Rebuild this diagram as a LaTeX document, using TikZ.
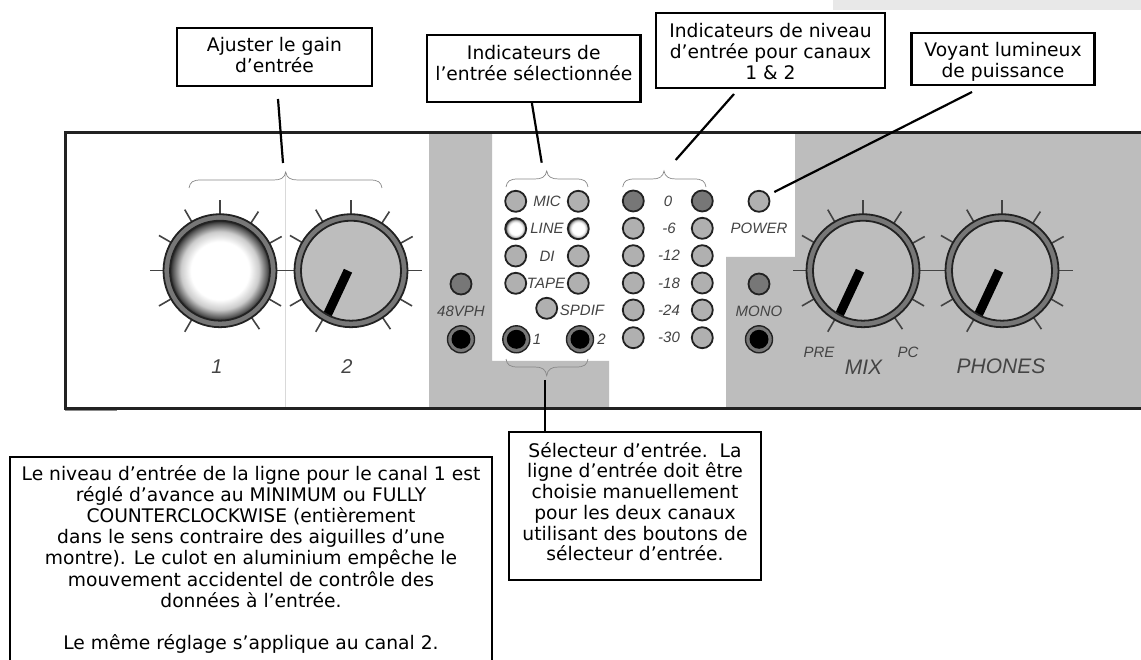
\documentclass[tikz,border=0pt]{standalone}
\usepackage{fontspec}
\setmainfont{DejaVu Sans}
\newfontfamily\arialit{Liberation Sans}[ItalicFont=* Italic]
\definecolor{panelgray}{HTML}{BDBDBD}
\definecolor{ringgray}{HTML}{777777}
\definecolor{inkdark}{HTML}{222222}
\definecolor{printtext}{HTML}{444444}
\definecolor{bracegray}{HTML}{888888}
\definecolor{shadea}{HTML}{CCCCCC}
\definecolor{shadeb}{HTML}{5A5A5A}
\definecolor{shadec}{HTML}{262626}
\pgfdeclareradialshading{knobshade}{\pgfpoint{0bp}{0bp}}{color(0bp)=(white); color(14.5bp)=(white); color(19.5bp)=(shadea); color(23.5bp)=(shadeb); color(25bp)=(shadec); color(50bp)=(shadec)}
\tikzset{
  callout/.style={draw=black,line width=2.4pt,fill=white,inner sep=0pt,outer sep=0pt,align=center,font=\fontsize{18.7}{20.7}\selectfont},
  leader/.style={draw=black,line width=2.2pt},
  led/.style={circle,draw=inkdark,line width=1.8pt,fill=panelgray!93!black,minimum size=21pt,inner sep=0pt,outer sep=0pt},
  ledon/.style={led,fill=ringgray},
  ledlit/.style={led,shade,shading=knobshade},
  jackring/.style={circle,draw=inkdark,line width=1.4pt,fill=ringgray,minimum size=27pt,inner sep=0pt,outer sep=0pt},
  jackcore/.style={circle,fill=black,minimum size=19pt,inner sep=0pt,outer sep=0pt},
  knobring/.style={circle,draw=inkdark,line width=1.8pt,fill=ringgray,minimum size=113pt,inner sep=0pt,outer sep=0pt},
  knobface/.style={circle,draw=inkdark,line width=1.8pt,fill=panelgray,minimum size=100pt,inner sep=0pt,outer sep=0pt},
  tick/.style={draw=inkdark!85!white,line width=1.6pt},
  printed/.style={text=printtext,inner sep=0pt,font=\arialit\itshape\fontsize{15}{15}\selectfont},
  printedbig/.style={text=printtext,inner sep=0pt,font=\arialit\itshape\fontsize{21}{21}\selectfont},
  bracket/.style={draw=bracegray,line width=0.7pt},
}
\newcommand{\knobticks}[2]{%
  \foreach \a in {0,29,57,90,120,150,180,210,240,304,330}
    \draw[tick] ([shift={(-\a:56)}]#1,#2) -- ([shift={(-\a:70.5)}]#1,#2);}
\newcommand{\upbrace}[4]{% left, right, tip x, base y
  \draw[bracket] (#1,#4) .. controls (#1+1,#4-6) and (#1+4,#4-8) .. (#1+12,#4-8)
    -- (#3-12,#4-8) .. controls (#3-5,#4-8) and (#3-1,#4-10) .. (#3,#4-16)
    .. controls (#3+1,#4-10) and (#3+5,#4-8) .. (#3+12,#4-8)
    -- (#2-12,#4-8) .. controls (#2-4,#4-8) and (#2-1,#4-6) .. (#2,#4);}
\begin{document}
\begin{tikzpicture}[x=1pt,y=-1pt]
\useasboundingbox (0,0) rectangle (1141,660);
\fill[white] (0,0) rectangle (1141,660);
\fill[black!9] (833,0) rectangle (1141,10);
% panel gray areas
\fill[panelgray] (429,133) -- (492,133) -- (492,361) -- (609,361) -- (609,408) -- (429,408) -- cycle;
\fill[panelgray] (795,133) -- (1141,133) -- (1141,408) -- (726,408) -- (726,257) -- (795,257) -- cycle;
\draw[black!15,line width=0.6pt] (285.7,172) -- (285.7,408);
% panel outline
\draw[draw=inkdark,line width=3pt] (1141,133) -- (65,133) -- (65,408) -- (1141,408);
\draw[draw=inkdark,line width=1.2pt] (1098,409.5) -- (1141,409.5);
\draw[draw=black!45,line width=1pt] (65,410) -- (117,410);
% knobs
\knobticks{220}{270.7}
\knobticks{351}{270.7}
\knobticks{863}{270.7}
\knobticks{1002}{270.7}
\node[knobring] (k1) at (220,270.7) {};
\node[knobring] (k2) at (351,270.7) {};
\node[knobring] (k3) at (863,270.7) {};
\node[knobring] (k4) at (1002,270.7) {};
\node[knobface,shade,shading=knobshade] (f1) at (220,270.7) {};
\foreach \n/\cx in {f2/351,f3/863,f4/1002}{
  \node[knobface,
    path picture={\draw[black,line width=9pt] (-3,0) -- (-25,47);}] (\n) at (\cx,270.7) {};
}
% braces
\upbrace{189}{382}{285.7}{188}
\upbrace{506}{588}{546.7}{187}
\upbrace{622.7}{706}{664}{187}
\draw[bracket] (506,359) .. controls (507,365) and (510,367) .. (518,367)
  -- (534.7,367) .. controls (541.7,367) and (545.7,369) .. (546.7,375.6)
  .. controls (547.7,369) and (551.7,367) .. (558.7,367)
  -- (576,367) .. controls (584,367) and (587,365) .. (588,359);
% selector LEDs
\node[led] (micl) at (515.7,201.3) {};
\node[led] (micr) at (578.3,201.3) {};
\node[ledlit] (linel) at (515.7,228.7) {};
\node[ledlit] (liner) at (578.3,228.7) {};
\node[led] (dil) at (515.7,256) {};
\node[led] (dir) at (578.3,256) {};
\node[led] (tapel) at (515.7,283.3) {};
\node[led] (taper) at (578.3,283.3) {};
\node[led] (spdif) at (546.7,308.3) {};
\node[printed] (tmic) at (547,201.3) {MIC};
\node[printed] (tline) at (547,228.7) {LINE};
\node[printed] (tdi) at (547,256) {DI};
\node[printed] (ttape) at (546,283.3) {TAPE};
\node[printed] (tspdif) at (582,310.5) {SPDIF};
% level LEDs
\node[ledon] (l0) at (633.3,201) {};
\node[ledon] (r0) at (702.3,201) {};
\foreach \n/\yy in {6/228.3,12/255.7,18/283,24/310,30/337.7}{
  \node[led] (l\n) at (633.3,\yy) {};
  \node[led] (r\n) at (702.3,\yy) {};
  \node[printed] (t\n) at (669,\yy) {-\n};
}
\node[printed] (t0) at (668,201) {0};
% other LEDs
\node[led] (power) at (759,201.3) {};
\node[printed] (tpower) at (759,228.3) {POWER};
\node[ledon] (led48) at (461,284) {};
\node[printed] (t48) at (461,311) {48VPH};
\node[ledon] (ledmono) at (759,284) {};
\node[printed] (tmono) at (759,311) {MONO};
% jacks
\foreach \n/\jx in {j48/461,j1/516.3,j2/580,jmono/759}{
  \node[jackring] (\n) at (\jx,339.3) {};
  \node[jackcore] (\n c) at (\jx,339.3) {};
}
\node[printed] (tj1) at (537,339.3) {1};
\node[printed] (tj2) at (601.5,339.3) {2};
% knob labels
\node[printedbig,font=\arialit\itshape\fontsize{20}{20}\selectfont] (n1) at (217,367) {1};
\node[printedbig,font=\arialit\itshape\fontsize{20}{20}\selectfont] (n2) at (347,367) {2};
\node[printed] (tpre) at (819,352.5) {PRE};
\node[printed] (tpc) at (908,352.5) {PC};
\node[printedbig] (tmix) at (863.5,367) {MIX};
\node[printedbig] (tphones) at (1001,366.5) {PHONES};
% callouts
\node[callout,minimum width=195pt,minimum height=58pt] (bgain) at (274.5,57) {Ajuster le gain\\d'entrée\rule[-4pt]{0pt}{4pt}};
\node[callout,minimum width=213.6pt,minimum height=67pt] (bsel) at (533.8,68.5) {Indicateurs de\\l'entrée sélectionnée\rule[-11pt]{0pt}{11pt}};
\node[callout,minimum width=229pt,minimum height=75pt] (blevel) at (770.5,50.5) {\rule{0pt}{16pt}Indicateurs de niveau\\d'entrée pour canaux\\1 \& 2};
\node[callout,minimum width=183pt,minimum height=52pt] (bpower) at (1003,59) {\rule{0pt}{20pt}Voyant lumineux\\de puissance};
\node[callout,minimum width=252pt,minimum height=148pt] (bselector) at (635,506) {Sélecteur d'entrée.\ \ La\\ligne d’entrée doit être\\choisie manuellement\\pour les deux canaux\\utilisant des boutons de\\sélecteur d’entrée.\rule[-9pt]{0pt}{9pt}};
\node[callout,anchor=north,minimum width=482pt,font=\fontsize{18.7}{21.2}\selectfont] (bnote) at (251,457) {\rule{0pt}{23pt}Le niveau d’entrée de la ligne pour le canal 1 est\\réglé d’avance au MINIMUM ou FULLY\\COUNTERCLOCKWISE (entièrement\\dans le sens contraire des aiguilles d’une\\montre). Le culot en aluminium empêche le\\mouvement accidentel de contrôle des\\données à l’entrée.\\\mbox{}\\Le même réglage s'applique au canal 2.\rule[-40pt]{0pt}{40pt}};
% leaders
\coordinate (a1) at (278,99);
\coordinate (a2) at (283,163);
\coordinate (a3) at (541.7,162.7);
\coordinate (a4) at (734,94);
\coordinate (a5) at (675.7,160);
\coordinate (a6) at (972,92);
\coordinate (a7) at (774.3,192);
\coordinate (a8) at (545.3,380);
\draw[leader] (a1) -- (a2);
\draw[leader] (bsel.south -| 531.7,0) -- (a3);
\draw[leader] (a4) -- (a5);
\draw[leader] (a6) -- (a7);
\draw[leader] (a8) -- (a8 |- bselector.north);
\end{tikzpicture}
\end{document}
